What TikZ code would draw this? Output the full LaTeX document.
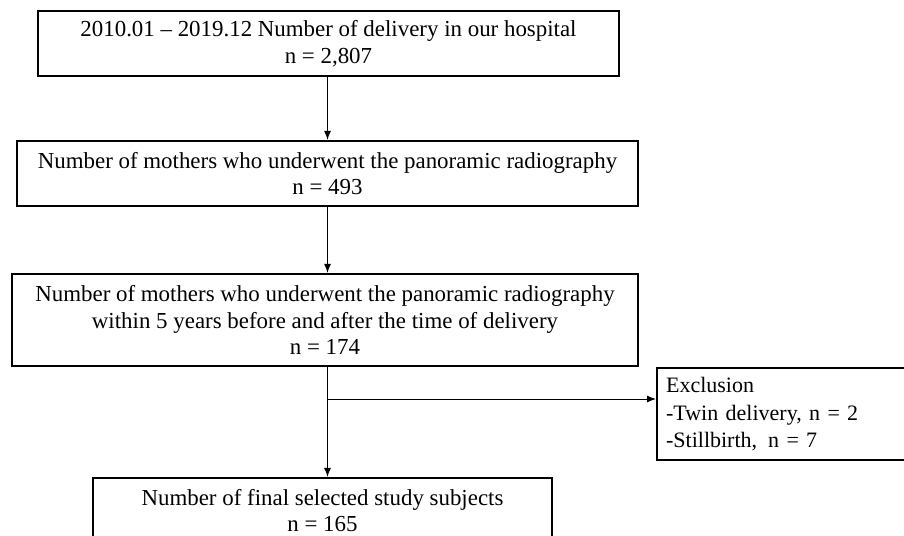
\documentclass[tikz,border=0pt]{standalone}
\usepackage{fontspec}
\setmainfont{Liberation Serif}
\usetikzlibrary{arrows.meta}
\begin{document}
\begin{tikzpicture}[x=1bp,y=-1bp,
  box/.style={draw=black, line width=2.2bp, inner sep=0pt, align=center,
    font=\fontsize{22.9bp}{26.5bp}\selectfont},
  exbox/.style={draw=black, line width=2.2bp, inner xsep=9bp, inner ysep=0pt, align=left,
    font=\fontsize{22bp}{27.5bp}\selectfont},
  arr/.style={line width=1bp, -{Latex[length=9bp,width=7bp]}},
  ln/.style={line width=1bp}]
\useasboundingbox (0,0) rectangle (904,536);
\clip (0,0) rectangle (904,536);
\coordinate (spine) at (327.5,0);
\node[box, minimum width=581bp, minimum height=65bp] (b1) at (328.5,43.5)
  {2010.01 – 2019.12 Number of delivery in our hospital\\ n = 2,807};
\node[box, minimum width=621bp, minimum height=65bp] (b2) at (327.5,173.5)
  {Number of mothers who underwent the panoramic radiography\\ n = 493};
\node[box, minimum width=626bp, minimum height=92bp] (b3) at (325,320)
  {Number of mothers who underwent the panoramic radiography\\ within 5 years before and after the time of delivery\\ n = 174};
\node[exbox, anchor=north west, minimum width=260bp, minimum height=92bp, text width=242bp] (ex) at (656,367)
  {Exclusion\\ -Twin delivery, n = 2\\ -Stillbirth,\, n = 7};
\node[box, minimum width=459bp, minimum height=65bp] (b5) at (322.5,510.5)
  {Number of final selected study subjects\\ n = 165};
\draw[arr] (b1.south -| spine) -- (b2.north -| spine);
\draw[arr] (b2.south -| spine) -- (b3.north -| spine);
\draw[arr] (b3.south -| spine) -- (b5.north -| spine);
\coordinate (br) at (327.5,399);
\draw[arr] (br) -- (br -| ex.west);
\end{tikzpicture}
\end{document}
